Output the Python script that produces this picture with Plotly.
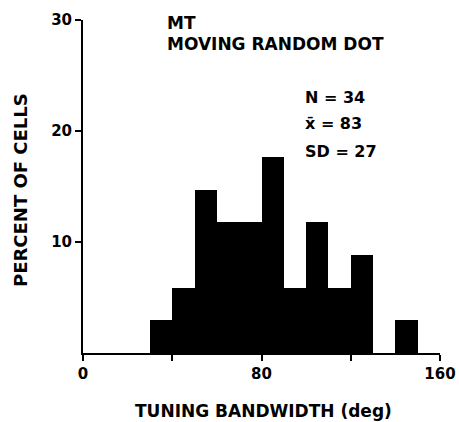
import plotly.graph_objects as go

bin_starts = [30, 40, 50, 60, 70, 80, 90, 100, 110, 120, 130, 140]
percent_cells = [2.94, 5.88, 14.7, 11.76, 11.76, 17.65, 5.88, 11.76, 5.88, 8.82, 0, 2.94]
bin_width = 10
x_tick_vals = [0, 40, 80, 120, 160]
x_tick_text = ["0", "", "80", "", "160"]
y_tick_vals = [10, 20, 30]

FONT = "DejaVu Sans, sans-serif"
L, T, W, H = 83, 20, 357, 333


def px(x):
    return (x - L) / W


def py(y):
    return (T + H - y) / H


fig = go.Figure()
fig.add_trace(go.Bar(
    x=[s + bin_width / 2 for s in bin_starts],
    y=percent_cells,
    width=bin_width,
    marker=dict(color="black", line=dict(width=0)),
    showlegend=False,
))

fig.update_layout(
    width=459, height=422,
    margin=dict(l=L, r=459 - L - W, t=T, b=422 - T - H, autoexpand=False),
    paper_bgcolor="white", plot_bgcolor="white",
    font=dict(family=FONT, size=15, color="black"),
    bargap=0,
    xaxis=dict(
        range=[0, 160], showgrid=False, zeroline=False,
        showline=True, linecolor="black", linewidth=2,
        ticks="outside", ticklen=6, tickwidth=2, tickcolor="black",
        tickvals=x_tick_vals, ticktext=x_tick_text,
        tickfont=dict(family=FONT, size=15, weight="bold"),
        automargin=False,
    ),
    yaxis=dict(
        range=[0, 30], showgrid=False, zeroline=False,
        showline=True, linecolor="black", linewidth=2,
        ticks="outside", ticklen=6, tickwidth=2, tickcolor="black",
        tickvals=y_tick_vals,
        tickfont=dict(family=FONT, size=15, weight="bold"),
        automargin=False,
    ),
)


def label(text, x, y, size, xanchor="left", angle=0):
    fig.add_annotation(xref="paper", yref="paper", x=px(x), y=py(y),
                       xanchor=xanchor, yanchor="middle", showarrow=False,
                       text="<b>" + text + "</b>", textangle=angle,
                       font=dict(family=FONT, size=size, color="black"))


label("MT", 165, 23, 17)
label("MOVING RANDOM DOT", 165, 44, 17)
label("N = 34", 303, 97, 16)
label("x̄ = 83", 303, 124, 16)
label("SD = 27", 303, 152, 16)
label("TUNING BANDWIDTH (deg)", 263, 411, 17, xanchor="center")
label("PERCENT OF CELLS", 20, 190, 18, xanchor="center", angle=-90)

fig.write_html("out.html", config={"displayModeBar": False},
               post_script="document.body.style.margin='0';document.body.style.overflow='hidden';")
